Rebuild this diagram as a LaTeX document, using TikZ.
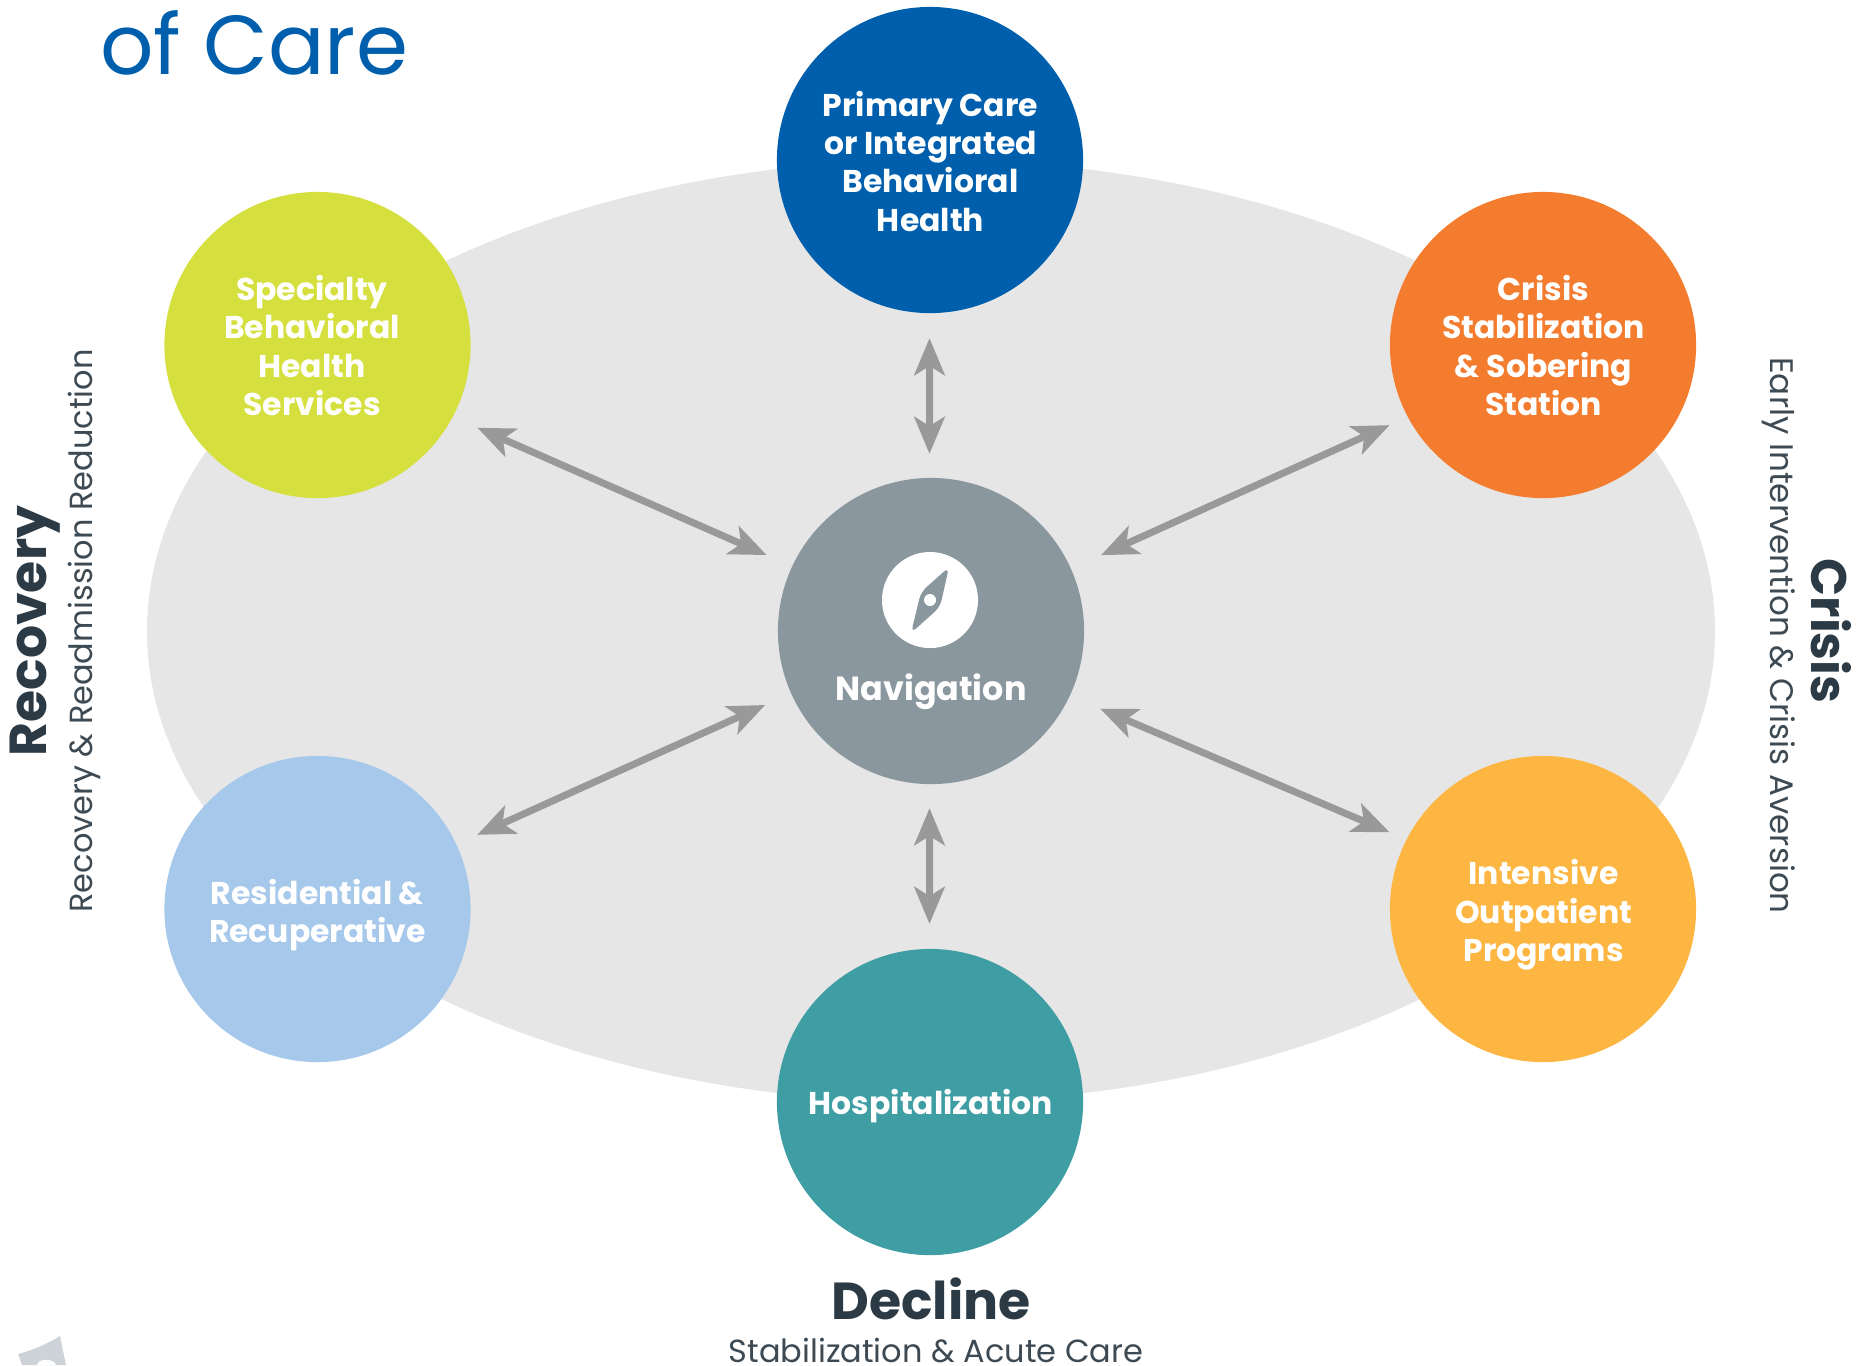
\documentclass[tikz,border=0pt]{standalone}
\usepackage{fontspec}
\setmainfont{Poppins}
\usetikzlibrary{arrows.meta}
\definecolor{ovalgray}{HTML}{E6E6E6}
\definecolor{arrowgray}{HTML}{999999}
\definecolor{navgray}{HTML}{8A979E}
\definecolor{primaryblue}{HTML}{005FAD}
\definecolor{specialtygreen}{HTML}{D5E03F}
\definecolor{crisisorange}{HTML}{F47C2E}
\definecolor{residentialblue}{HTML}{A6C8EA}
\definecolor{intensiveyellow}{HTML}{FDB641}
\definecolor{hospitalteal}{HTML}{3E9EA3}
\definecolor{inkdark}{HTML}{2B3A45}
\definecolor{inkgray}{HTML}{3D4A53}
\definecolor{markgray}{HTML}{CDD3D9}
\tikzset{
	care/.style={circle,minimum size=3.06cm,inner sep=0pt,outer sep=0pt},
	caretext/.style={align=center,inner sep=0pt,text=white,font=\fontsize{8.95}{10.9}\selectfont\bfseries},
	both/.style={{Stealth[length=10.5pt,width=8.6pt,inset=2.6pt]}-{Stealth[length=10.5pt,width=8.6pt,inset=2.6pt]},draw=arrowgray,line width=2pt},
	head/.style={text=inkdark,font=\fontsize{14.8}{16}\selectfont\bfseries,inner sep=0pt},
	sub/.style={text=inkgray,font=\fontsize{9.1}{10}\selectfont,inner sep=0pt}
}
\begin{document}
\begin{tikzpicture}[x=0.01cm,y=-0.01cm]
	\useasboundingbox (0,0) rectangle (1874,1365);
	\fill[ovalgray] (931,631) ellipse [x radius=784,y radius=471];
	% circles
	\node[care,fill=primaryblue] (primary) at (930,160) {};
	\node[care,fill=specialtygreen] (specialty) at (317.5,345) {};
	\node[care,fill=crisisorange] (crisis) at (1543,345) {};
	\node[care,fill=residentialblue] (residential) at (317.5,909) {};
	\node[care,fill=intensiveyellow] (intensive) at (1543,909) {};
	\node[care,fill=hospitalteal] (hospital) at (930,1102) {};
	\node[care,fill=navgray] (nav) at (931,631) {};
	% texts in the circles
	\node[caretext] (primarytext) at (930.5,161) {Primary Care\\or Integrated\\Behavioral\\Health};
	\node[caretext] (specialtytext) at (312,345.5) {Specialty\\Behavioral\\Health\\Services};
	\node[caretext] (crisistext) at (1543.5,345.5) {Crisis\\Stabilization\\\& Sobering\\Station};
	\node[caretext] (residentialtext) at (317.5,915) {Residential \&\\Recuperative};
	\node[caretext] (intensivetext) at (1543.5,915) {Intensive\\Outpatient\\Programs};
	\node[caretext] (hospitaltext) at (931,1106) {Hospitalization};
	\node[caretext,font=\fontsize{9.5}{10.9}\selectfont\bfseries] (navtext) at (931,691.5) {Navigation};
	% compass
	\node[circle,fill=white,minimum size=0.96cm,inner sep=0pt] (compass) at (930,600) {};
	\fill[navgray,rounded corners=2pt] (949,567) -- (940,607) -- (911,633) -- (921,592) -- cycle;
	\node[circle,fill=white,minimum size=0.12cm,inner sep=0pt] (compassdot) at (930,600) {};
	% arrows
	\draw[both,shorten <=24*0.2845pt,shorten >=25*0.2845pt] ([xshift=-0.015cm]nav.north) -- ([xshift=-0.005cm]primary.south);
	\draw[both,shorten <=24*0.2845pt,shorten >=25*0.2845pt] ([xshift=-0.015cm]nav.south) -- ([xshift=-0.005cm]hospital.north);
	\foreach \a/\b/\s/\e in {nav.155.8/specialty.332.1/28/27,nav.24.2/crisis.208.8/33/20,nav.204.1/residential.25.9/28.5/23,nav.335.9/intensive.153/33/18.6}
	{
		\draw[both,shorten <=\s*0.2845pt,shorten >=\e*0.2845pt] (\a) -- (\b);
	}
	% side labels
	\node[head,rotate=90] (recovery) at (35,631) {Recovery};
	\node[sub,rotate=90] (recoverysub) at (84,631) {Recovery \& Readmission Reduction};
	\node[head,font=\fontsize{14.2}{16}\selectfont\bfseries,rotate=-90] (crisishead) at (1831.5,631) {Crisis};
	\node[sub,font=\fontsize{9.26}{10}\selectfont,rotate=-90] (crisissub) at (1779,635.5) {Early Intervention \& Crisis Aversion};
	\node[head] (decline) at (931,1299) {Decline};
	\node[sub] (declinesub) at (936,1350) {Stabilization \& Acute Care};
	\node[anchor=base west,text=primaryblue,font=\fontsize{23.8}{30}\selectfont,inner sep=0pt] (title) at (99.5,74) {of Care};
	% cut off mark
	\fill[markgray] (18,1354) .. controls (33,1350) and (47,1344) .. (60,1336) -- (66,1365) -- (22,1365) -- cycle;
	\fill[white] (37,1365) .. controls (38,1358) and (54,1358) .. (56,1365) -- cycle;
\end{tikzpicture}
\end{document}
